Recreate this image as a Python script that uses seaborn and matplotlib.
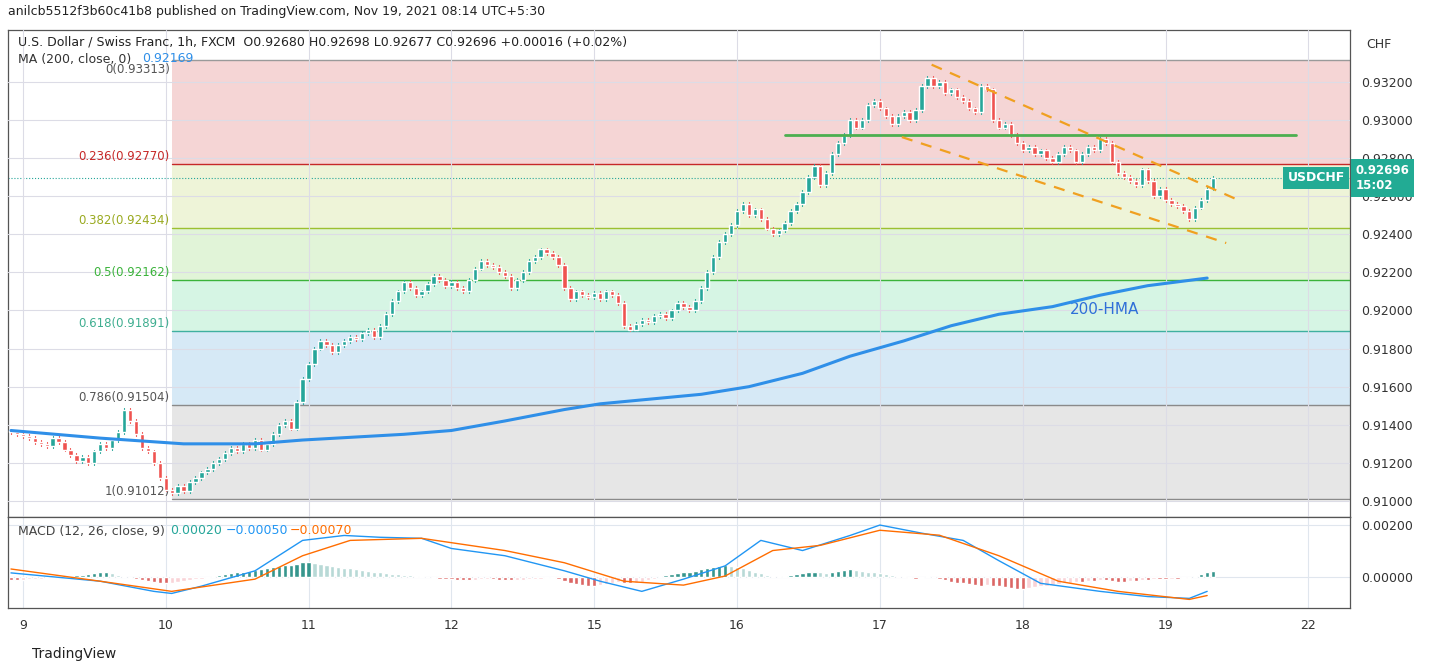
import numpy as np
import pandas as pd
import matplotlib.pyplot as plt
import seaborn as sns

sns.set_style('white')
plt.rcParams.update({'font.family': 'DejaVu Sans', 'font.size': 9})

# hourly closes, USDCHF 1h (pre-9th + 9th, 10, 11, 12, 15, 16, 17, 18, 19)
closes = [
    0.9136,0.9135,0.9134,0.9133,0.9131,0.9130,0.9129,0.9133,0.9131,0.9127,0.9124,0.9121,0.9123,0.9120,0.9126,0.9130,0.9128,0.9132,0.9136,0.9148,0.9142,0.9135,0.9128,0.9126,0.9120,0.9112,
    0.9106,0.9104,0.9108,0.9105,0.9110,0.9112,0.9115,0.9117,0.9120,0.9122,0.9125,0.9128,0.9126,0.9130,0.9128,0.9132,0.9127,0.9130,0.9135,0.9140,0.9142,0.9138,0.9152,0.9164,
    0.9172,0.9180,0.9184,0.9182,0.9178,0.9182,0.9184,0.9186,0.9185,0.9188,0.9190,0.9186,0.9192,0.9198,0.9205,0.9210,0.9215,0.9212,0.9208,0.9210,0.9214,0.9218,0.9216,0.9213,
    0.9215,0.9212,0.9210,0.9216,0.9222,0.9226,0.9224,0.9223,0.9220,0.9218,0.9212,0.9216,0.9220,0.9226,0.9228,0.9232,0.9230,0.9228,0.9224,0.9212,0.9206,0.9210,0.9208,0.9207,
    0.9209,0.9206,0.9210,0.9208,0.9204,0.9192,0.9190,0.9193,0.9195,0.9194,0.9197,0.9198,0.9196,0.9200,0.9204,0.9202,0.9200,0.9205,0.9212,0.9220,0.9228,0.9236,0.9240,0.9245,
    0.9252,0.9256,0.9250,0.9253,0.9248,0.9243,0.9240,0.9242,0.9246,0.9252,0.9256,0.9262,0.9270,0.9276,0.9266,0.9272,0.9282,0.9288,0.9292,0.9300,0.9296,0.9300,0.9308,0.9310,
    0.9306,0.9302,0.9298,0.9302,0.9304,0.9300,0.9305,0.9318,0.9322,0.9318,0.9320,0.9314,0.9316,0.9312,0.9310,0.9306,0.9304,0.9318,0.9316,0.9300,0.9296,0.9298,0.9292,0.9288,
    0.9284,0.9286,0.9282,0.9284,0.9280,0.9278,0.9282,0.9286,0.9284,0.9278,0.9282,0.9286,0.9284,0.9290,0.9288,0.9278,0.9272,0.9270,0.9268,0.9266,0.9274,0.9268,0.9260,0.9264,
    0.9258,0.9256,0.9255,0.9252,0.9248,0.9254,0.9258,0.9264,0.92696,
]
first_open = 0.9137
wick = 0.0001

# MACD histogram, units of 1e-5
hist = [
    -12,-12,-10,-9,-8,-6,-4,-3,0,3,6,8,9,12,15,18,21,15,8,3,-4,-9,-12,-15,-18,-21,
    -22,-21,-18,-15,-12,-9,-6,-3,3,8,12,15,18,21,24,27,30,33,38,42,45,48,52,57,
    58,55,50,46,42,39,36,33,30,27,24,21,18,15,13,12,9,8,5,3,0,-3,-6,-8,
    -9,-10,-12,-12,-10,-9,-8,-9,-10,-12,-13,-12,-10,-9,-8,-6,-4,-3,-9,-15,-21,-27,-30,-33,
    -33,-30,-27,-22,-18,-21,-24,-22,-18,-12,-6,3,8,12,15,18,21,24,30,36,39,42,45,42,
    38,33,27,21,15,9,5,3,6,9,12,15,18,21,18,15,21,24,27,30,27,24,21,18,
    15,12,9,6,3,-3,-6,-3,3,0,-6,-12,-18,-21,-24,-27,-30,-33,-30,-33,-36,-39,-42,-45,
    -45,-42,-39,-36,-33,-30,-27,-24,-21,-18,-18,-15,-15,-12,-12,-15,-18,-18,-15,-15,-12,-12,-9,-9,
    -9,-6,-6,-3,-3,6,12,18,24,
]

# 200-HMA knots (bar index, price)
hma_x = [0, 15, 29, 41, 49, 66, 74, 83, 93, 99, 116, 124, 133, 141, 150, 158, 166, 175, 183, 191, 201]
hma_y = [0.9137, 0.9133, 0.9130, 0.9130, 0.9132, 0.9135, 0.9137, 0.9142, 0.9148, 0.9151, 0.9156, 0.9160,
         0.9167, 0.9176, 0.9184, 0.9192, 0.9198, 0.9202, 0.9208, 0.9213, 0.9217]

# MACD / signal knots (bar index, 1e-5)
macd_x = [0, 15, 24, 27, 32, 41, 49, 56, 62, 69, 74, 83, 93, 99, 106, 113, 120, 126, 133, 141, 146, 153, 160, 166, 173, 183, 191, 198, 201]
macd_y = [16, -16, -55, -63, -35, 24, 141, 160, 153, 149, 110, 82, 24, -16, -55, -8, 43, 141, 102, 160, 200, 169, 141, 63, -24, -55, -75, -82, -55]
sig_x = [0, 15, 27, 41, 49, 57, 69, 83, 93, 103, 113, 120, 128, 136, 146, 156, 166, 176, 186, 198, 201]
sig_y = [31, -16, -55, -8, 82, 141, 149, 102, 55, -16, -31, 4, 102, 122, 180, 161, 82, -16, -55, -86, -71]

fib_ratio = ['0', '0.236', '0.382', '0.5', '0.618', '0.786', '1']
fib_price = [0.93313, 0.92770, 0.92434, 0.92162, 0.91891, 0.91504, 0.91012]
fib_fill = ['#f5d5d5', '#eef4d8', '#e1f4d8', '#d6f5e4', '#d6e9f6', '#e6e6e6']
fib_line = ['#9a9a9a', '#c62828', '#9cc030', '#3bb33b', '#3fb0a0', '#8a8a8a', '#8a8a8a']
fib_text = ['#555', '#c62828', '#9aaa20', '#3bb33b', '#3fae90', '#555', '#555']

day_labels = ['9', '10', '11', '12', '15', '16', '17', '18', '19', '22']

UP, DN = '#26a69a', '#ef5350'
fig = plt.figure(figsize=(14.32, 6.71), dpi=100)
ax = fig.add_axes([8/1432, 1-517/671, 1342/1432, 487/671])
mx = fig.add_axes([8/1432, 1-608/671, 1342/1432, 91/671], sharex=ax)

x0, x1 = -0.5, 225
ticks = [2 + 24*k for k in range(len(day_labels))]
fib_start = 27
for i in range(6):
    ax.fill_between([fib_start, x1], fib_price[i+1], fib_price[i], color=fib_fill[i], lw=0, zorder=0)
for r, p, c, tc in zip(fib_ratio, fib_price, fib_line, fib_text):
    ax.plot([fib_start, x1], [p, p], color=c, lw=1, zorder=1)
    va = 'top' if r == '0' else 'bottom'
    off = -0.00016 if r == '0' else 0.00004
    ax.text(fib_start - 0.3, p + off, f'{r}({p:.5f})', ha='right', va=va, fontsize=8.5, color=tc)

# candles
opens = [first_open] + closes[:-1]
df = pd.DataFrame({'o': opens, 'c': closes})
df['i'] = np.arange(len(df))
df['up'] = df.c >= df.o
for _, r in df.iterrows():
    col = UP if r.up else DN
    lo, hi = min(r.o, r.c), max(r.o, r.c)
    ax.plot([r.i, r.i], [lo - wick, hi + wick], color=col, lw=0.8, zorder=3)
    ax.bar(r.i, max(hi - lo, 0.00002), bottom=lo, width=0.72, color=col, zorder=4)

sns.lineplot(x=hma_x, y=hma_y, ax=ax, color='#2f8fe8', lw=2.2, zorder=5)
ax.text(178, 0.9198, '200-HMA', color='#2f6fd8', fontsize=11)

ax.plot([130, 216], [0.9292, 0.9292], color='#4caf50', lw=2, zorder=6)
ax.plot([154.7, 206.2], [0.9329, 0.9258], color='#f0a020', lw=1.6, ls=(0, (5, 4)), zorder=6)
ax.plot([149.7, 204.2], [0.9291, 0.92354], color='#f0a020', lw=1.6, ls=(0, (5, 4)), zorder=6)

last = closes[-1]
ax.axhline(last, color='#26a69a', lw=0.8, ls=':', zorder=2)
ax.text(214.5, last, 'USDCHF', ha='left', va='center', color='white', fontsize=9, fontweight='bold',
        bbox=dict(boxstyle='square,pad=0.35', fc='#22ab94', ec='none'), zorder=7)
ax.text(1.004, last, f'{last:.5f}\n15:02', transform=ax.get_yaxis_transform(), ha='left', va='center',
        color='white', fontsize=8.5, fontweight='bold', bbox=dict(boxstyle='square,pad=0.4', fc='#22ab94', ec='none'),
        clip_on=False, zorder=8)

ax.set_xlim(x0, x1)
ax.set_ylim(0.90916, 0.93472)
ax.yaxis.tick_right()
yt = np.arange(0.910, 0.9331, 0.002)
ax.set_yticks(yt)
ax.set_yticklabels([f'{v:.5f}' for v in yt])
ax.tick_params(axis='y', length=0, labelsize=9, colors='#333', pad=8)
ax.tick_params(axis='x', labelbottom=False, length=0)
ax.set_xticks(ticks)
ax.grid(True, color='#dcdce6', lw=0.8, zorder=0.5)
ax.set_axisbelow(False)

# MACD panel
hc = []
for k, h in enumerate(hist):
    prev = hist[k-1] if k else h
    if h >= 0:
        hc.append('#26a69a' if h >= prev else '#b2dfdb')
    else:
        hc.append('#ef5350' if h <= prev else '#ffcdd2')
sns.barplot(x=np.arange(len(hist)), y=np.array(hist) * 1e-5, ax=mx, palette=hc, hue=np.arange(len(hist)),
            legend=False, width=0.72, native_scale=True)
sns.lineplot(x=macd_x, y=np.array(macd_y) * 1e-5, ax=mx, color='#2196f3', lw=1)
sns.lineplot(x=sig_x, y=np.array(sig_y) * 1e-5, ax=mx, color='#ff6d00', lw=1)
mx.set_ylim(-0.00119, 0.00231)
mx.yaxis.tick_right()
mx.set_yticks([0, 0.002])
mx.set_yticklabels(['0.00000', '0.00200'])
mx.tick_params(axis='y', length=0, labelsize=9, colors='#333', pad=8)
mx.set_xlim(x0, x1)
mx.set_xticks(ticks)
mx.set_xticklabels(day_labels)
mx.tick_params(axis='x', length=0, labelsize=9, colors='#333', pad=8)
mx.grid(True, color='#e0e6ee', lw=0.8)
mx.set_ylabel('')
for a in (ax, mx):
    for s in a.spines.values():
        s.set_color('#555')
        s.set_linewidth(0.9)

fig.text(8/1432, 1-12/671, 'anilcb5512f3b60c41b8 published on TradingView.com, Nov 19, 2021 08:14 UTC+5:30',
         fontsize=9, va='center', color='#222')
fig.text(18/1432, 1-42/671, 'U.S. Dollar / Swiss Franc, 1h, FXCM  O0.92680 H0.92698 L0.92677 C0.92696 +0.00016 (+0.02%)',
         fontsize=9, va='center', color='#222')
fig.text(18/1432, 1-59/671, 'MA (200, close, 0)', fontsize=9, va='center', color='#333')
fig.text(142/1432, 1-59/671, '0.92169', fontsize=9, va='center', color='#2f8fe8')
fig.text(18/1432, 1-531/671, 'MACD (12, 26, close, 9)', fontsize=9, va='center', color='#444')
fig.text(170/1432, 1-531/671, '0.00020', fontsize=9, va='center', color='#26a69a')
fig.text(226/1432, 1-531/671, '−0.00050', fontsize=9, va='center', color='#2196f3')
fig.text(290/1432, 1-531/671, '−0.00070', fontsize=9, va='center', color='#ff6d00')
fig.text(32/1432, 1-654/671, 'TradingView', fontsize=10, va='center', color='#222')
fig.text(1366/1432, 1-44/671, 'CHF', fontsize=9, va='center', color='#333')

fig.savefig('out.png', dpi=100)
